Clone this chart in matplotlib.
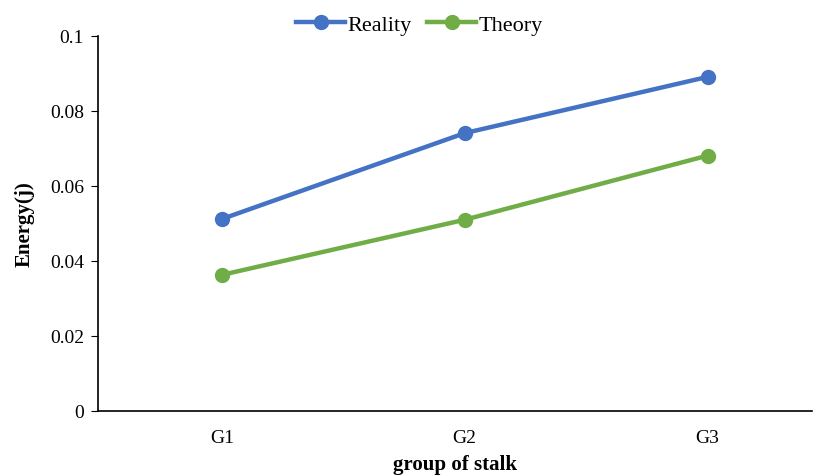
import matplotlib.pyplot as plt

# === Daten ===
groups = ['G1', 'G2', 'G3']
reality = [0.0512, 0.0741, 0.0891]
theory = [0.0363, 0.0510, 0.0681]
# ==============

plt.rcParams['font.family'] = ['Liberation Serif', 'DejaVu Serif']

fig = plt.figure(figsize=(8.19, 4.77), dpi=100)
ax = fig.add_axes([98 / 819, 65 / 477, (812 - 98) / 819, 375 / 477])

x = range(len(groups))
ax.plot(x, reality, '-o', color='#4472C4', lw=3.2, ms=10, label='Reality')
ax.plot(x, theory, '-o', color='#70AD47', lw=3.2, ms=10, label='Theory')

ax.set_xlim(-0.51, 2.43)
ax.set_ylim(0, 0.1)
ax.set_xticks(list(x))
ax.set_xticklabels(groups)
ax.set_yticks([0, 0.02, 0.04, 0.06, 0.08, 0.1])
ax.set_yticklabels(['0', '0.02', '0.04', '0.06', '0.08', '0.1'])
ax.tick_params(axis='x', length=0, pad=13, labelsize=14)
ax.tick_params(axis='y', direction='out', length=5, labelsize=14, pad=5)

for s in ['top', 'right']:
    ax.spines[s].set_visible(False)
ax.spines['left'].set_linewidth(1.2)
ax.spines['bottom'].set_linewidth(1.2)

ax.set_xlabel('group of stalk', fontsize=15, fontweight='bold', labelpad=6)
ax.set_ylabel('Energy(j)', fontsize=15, fontweight='bold', labelpad=11)

fig.legend(loc='upper center', bbox_to_anchor=(0.512, 1.01), ncol=2, frameon=False,
           fontsize=16, handlelength=2.2, columnspacing=0.7, handletextpad=0.1)

fig.savefig('out.png', dpi=100)
